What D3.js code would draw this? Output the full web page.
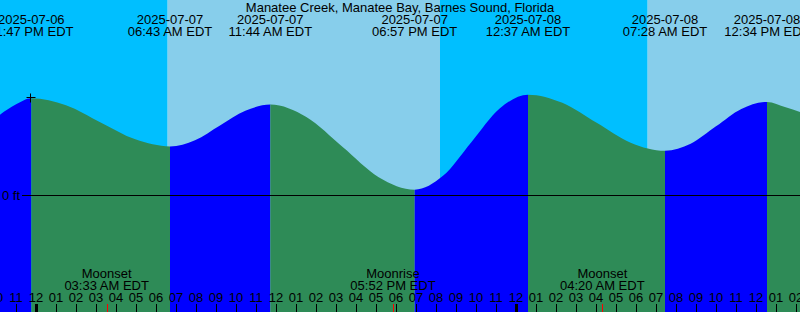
<!DOCTYPE html>
<head>
  <meta charset="utf-8">
  <script src="https://d3js.org/d3.v7.min.js"></script>
  <style>
    body { margin:0; background:#fff; }
    text { font-family: "Liberation Sans", Arial, sans-serif; font-size: 13px; fill: #000; }
  </style>
</head>

<body>
  <script>
    var width = 800,
        height = 312;

    var title = "Manatee Creek, Manatee Bay, Barnes Sound, Florida";

    // high / low tides
    var extremeTimes = ["2025-07-06 23:47", "2025-07-07 06:43", "2025-07-07 11:44", "2025-07-07 18:57",
                        "2025-07-08 00:37", "2025-07-08 07:28", "2025-07-08 12:34"];
    var extremeLabels = ["11:47 PM EDT", "06:43 AM EDT", "11:44 AM EDT", "06:57 PM EDT",
                         "12:37 AM EDT", "07:28 AM EDT", "12:34 PM EDT"];
    var extremeTypes = ["high", "low", "high", "low", "high", "low", "high"];

    // tide curve samples (ft)
    var curveTimes = ["2025-07-06 22:13", "2025-07-06 23:00", "2025-07-06 23:47",
                      "2025-07-07 01:31", "2025-07-07 03:15", "2025-07-07 04:59", "2025-07-07 06:43",
                      "2025-07-07 07:58", "2025-07-07 09:13", "2025-07-07 10:29", "2025-07-07 11:44",
                      "2025-07-07 13:32", "2025-07-07 15:21", "2025-07-07 17:09", "2025-07-07 18:57",
                      "2025-07-07 20:22", "2025-07-07 21:47", "2025-07-07 23:12", "2025-07-08 00:37",
                      "2025-07-08 02:20", "2025-07-08 04:03", "2025-07-08 05:45", "2025-07-08 07:28",
                      "2025-07-08 08:45", "2025-07-08 10:01", "2025-07-08 11:17", "2025-07-08 12:34",
                      "2025-07-08 13:30", "2025-07-08 14:13"];
    var curveFeet = [0.365, 0.411, 0.44,
                     0.408, 0.33, 0.253, 0.221,
                     0.249, 0.316, 0.383, 0.411,
                     0.354, 0.218, 0.081, 0.024,
                     0.087, 0.24, 0.393, 0.456,
                     0.419, 0.328, 0.238, 0.201,
                     0.233, 0.312, 0.391, 0.423,
                     0.399, 0.377];

    // sunrise / sunset
    var sunTimes = ["2025-07-07 06:36", "2025-07-07 20:13", "2025-07-08 06:36"];

    // moon events
    var moonTimes = ["2025-07-07 03:33", "2025-07-07 17:52", "2025-07-08 04:20"];
    var moonNames = ["Moonset", "Moonrise", "Moonset"];
    var moonLabels = ["03:33 AM EDT", "05:52 PM EDT", "04:20 AM EDT"];

    var start = "2025-07-06 22:13",
        end = "2025-07-08 14:13";

    var parse = d3.timeParse("%Y-%m-%d %H:%M");

    var x = d3.scaleTime()
      .domain([parse(start), parse(end)])
      .range([0, width]);

    var y = d3.scaleLinear()
      .domain([0, 1])
      .range([195, -25]);

    var svg = d3.select("body").append("svg")
      .attr("width", width)
      .attr("height", height);

    //sky: night / day columns
    var skyEdges = [parse(start)].concat(sunTimes.map(parse), [parse(end)]);
    for (var i = 0; i < skyEdges.length - 1; i++) {
      svg.append("rect")
        .attr("x", x(skyEdges[i]))
        .attr("y", 0)
        .attr("width", x(skyEdges[i + 1]) - x(skyEdges[i]))
        .attr("height", height)
        .attr("fill", i % 2 == 0 ? "#00bfff" : "#87ceeb");
    }

    //tide area, coloured rising / falling
    var pts = curveTimes.map(function(t, i) { return [parse(t), curveFeet[i]]; });
    var area = d3.area()
      .x(function(d) { return x(d[0]); })
      .y0(height)
      .y1(function(d) { return y(d[1]); })
      .curve(d3.curveMonotoneX);

    svg.append("clipPath").attr("id", "tide")
      .append("path").attr("d", area(pts));

    var segEdges = [parse(start)].concat(extremeTimes.map(parse), [parse(end)]);
    var tide = svg.append("g").attr("clip-path", "url(#tide)");
    for (var i = 0; i < segEdges.length - 1; i++) {
      // rising before a high tide
      var rising = i < extremeTypes.length ? extremeTypes[i] == "high" : extremeTypes[i - 1] == "low";
      tide.append("rect")
        .attr("x", x(segEdges[i]))
        .attr("y", 0)
        .attr("width", x(segEdges[i + 1]) - x(segEdges[i]))
        .attr("height", height)
        .attr("fill", rising ? "#0000ff" : "#2e8b57");
    }

    //zero line
    svg.append("line")
      .attr("x1", 22).attr("x2", width)
      .attr("y1", y(0) + 0.5).attr("y2", y(0) + 0.5)
      .attr("stroke", "#000");
    svg.append("text")
      .attr("x", 2).attr("y", 200)
      .text("0 ft");

    //cross at first high
    var cx = Math.round(x(parse(extremeTimes[0]))) - 0.5,
        cy = Math.round(y(curveFeet[2])) - 0.5;
    svg.append("path")
      .attr("d", "M" + (cx - 4) + "," + cy + "H" + (cx + 5) + "M" + cx + "," + (cy - 4) + "V" + (cy + 5))
      .attr("stroke", "#000");

    //title + tide labels
    svg.append("text")
      .attr("x", width / 2).attr("y", 12)
      .attr("text-anchor", "middle")
      .text(title);

    var labels = svg.append("g");
    extremeTimes.forEach(function(t, i) {
      var d = parse(t);
      labels.append("text")
        .attr("x", x(d)).attr("y", 24)
        .attr("text-anchor", "middle")
        .text(d3.timeFormat("%Y-%m-%d")(d));
      labels.append("text")
        .attr("x", x(d)).attr("y", 36)
        .attr("text-anchor", "middle")
        .text(extremeLabels[i]);
    });

    //moon labels
    moonTimes.forEach(function(t, i) {
      var d = parse(t);
      labels.append("text")
        .attr("x", x(d)).attr("y", 278)
        .attr("text-anchor", "middle")
        .text(moonNames[i]);
      labels.append("text")
        .attr("x", x(d)).attr("y", 290)
        .attr("text-anchor", "middle")
        .text(moonLabels[i]);
    });

    //hour axis
    var hours = d3.timeHour.range(d3.timeHour.offset(parse(start), -1), d3.timeHour.offset(parse(end), 1));
    var axis = svg.append("g");
    hours.forEach(function(h) {
      var hx = Math.round(x(h));
      var midnight = h.getHours() == 0;
      axis.append("text")
        .attr("x", hx).attr("y", 302)
        .attr("text-anchor", "middle")
        .text(d3.timeFormat("%I")(h));
      axis.append("line")
        .attr("x1", hx + 0.5).attr("x2", hx + 0.5)
        .attr("y1", 304).attr("y2", height)
        .attr("stroke", "#000")
        .attr("stroke-width", midnight ? 3 : 1);
    });
    moonTimes.forEach(function(t) {
      var mx = Math.round(x(parse(t)));
      axis.append("line")
        .attr("x1", mx + 0.5).attr("x2", mx + 0.5)
        .attr("y1", 304).attr("y2", height)
        .attr("stroke", "#ff0000");
    });
  </script>
</body>
